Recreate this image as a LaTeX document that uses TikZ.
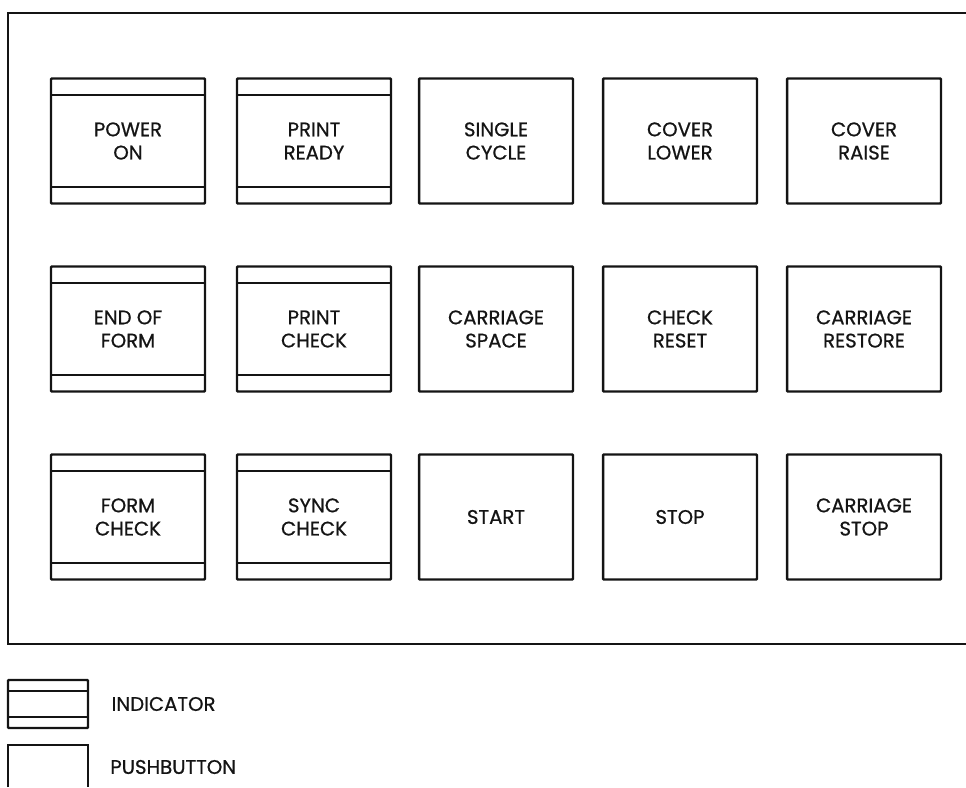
\documentclass[tikz,border=0pt]{standalone}
\usepackage{fontspec}
\setmainfont{Poppins}[FakeBold=0.7]
\usetikzlibrary{positioning}
\definecolor{inkblack}{HTML}{141414}

\begin{document}
\begin{tikzpicture}[
  x=0.02cm, y=-0.02cm,
  btnbox/.style={draw=inkblack, line width=1.4pt, rounded corners=0.5pt,
                 minimum width=3.08cm, minimum height=2.5cm, inner sep=0pt,
                 font=\fontsize{11.2}{13.2}\selectfont, align=center, text=inkblack},
  indicator/.style={btnbox, path picture={
      \draw[inkblack, line width=0.9pt]
        ([yshift=-#1]path picture bounding box.north west) -- ([yshift=-#1]path picture bounding box.north east)
        ([yshift=#1]path picture bounding box.south west) -- ([yshift=#1]path picture bounding box.south east);
  }},
  indicator/.default=0.33cm,
  keytext/.style={font=\fontsize{11.2}{13.2}\selectfont, text=inkblack, inner sep=0pt}
]
  \useasboundingbox (0,0) rectangle (966,787);

  % Panel outline (right side runs off the page)
  \draw[inkblack, line width=1pt] (966,13) -- (8,13) -- (8,644) -- (966,644);

  % Row 1
  \node[indicator] (poweron)   at (128,141) {POWER\\ON};
  \node[indicator] (printrdy)  at (314,141) {PRINT\\READY};
  \node[btnbox]    (sglcycle)  at (496,141) {SINGLE\\CYCLE};
  \node[btnbox]    (covlower)  at (680,141) {COVER\\LOWER};
  \node[btnbox]    (covraise)  at (864,141) {COVER\\RAISE};

  % Row 2
  \node[indicator] (endform)   at (128,329) {END OF\\FORM};
  \node[indicator] (printchk)  at (314,329) {PRINT\\CHECK};
  \node[btnbox]    (carspace)  at (496,329) {CARRIAGE\\SPACE};
  \node[btnbox]    (chkreset)  at (680,329) {CHECK\\RESET};
  \node[btnbox]    (carrestor) at (864,329) {CARRIAGE\\RESTORE};

  % Row 3
  \node[indicator] (formchk)   at (128,517) {FORM\\CHECK};
  \node[indicator] (syncchk)   at (314,517) {SYNC\\CHECK};
  \node[btnbox]    (startbtn)  at (496,517) {START};
  \node[btnbox]    (stopbtn)   at (680,517) {STOP};
  \node[btnbox]    (carstop)   at (864,517) {CARRIAGE\\STOP};

  % Legend
  \node[indicator=0.22cm, minimum width=1.6cm, minimum height=0.96cm] (indkey) at (48,704) {};
  \node[keytext, right=0.44cm of indkey] (indlbl) {INDICATOR};
  \draw[inkblack, line width=1.4pt] (8,787) -- (8,745) -- (88,745) -- (88,787);
  \coordinate (pbkey) at (88,767);
  \node[keytext, right=0.44cm of pbkey] (pblbl) {PUSHBUTTON};
\end{tikzpicture}
\end{document}
